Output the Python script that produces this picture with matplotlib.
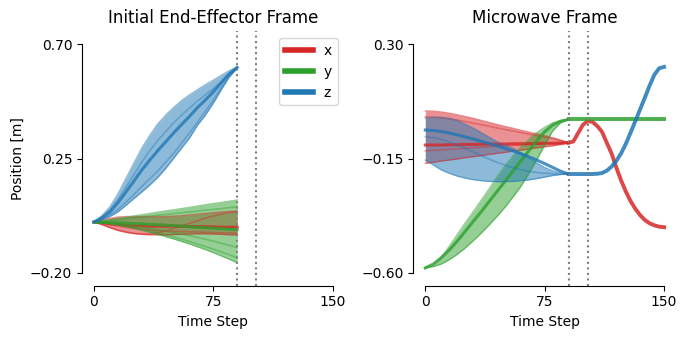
import matplotlib.pyplot as plt

# time axes
t_demo = [0, 5, 10, 15, 20, 25, 30, 35, 40, 45, 50, 55, 60, 65, 70, 75, 80, 85, 90]
t_exec = [90, 93, 96, 99, 102, 105, 108, 111, 114, 117, 120, 123, 126, 129, 132, 135, 138, 141, 144, 147, 150]
phase_marks = [90, 102]

# ---- Initial End-Effector Frame (demonstrations) ----
ee_x_lo = [0, -0.01, -0.022, -0.033, -0.04, -0.045, -0.048, -0.05, -0.05, -0.05, -0.049, -0.048, -0.047, -0.046, -0.046, -0.047, -0.048, -0.05, -0.05]
ee_x_hi = [0, 0.008, 0.015, 0.02, 0.022, 0.022, 0.022, 0.022, 0.022, 0.022, 0.023, 0.025, 0.028, 0.031, 0.034, 0.037, 0.04, 0.042, 0.043]
ee_x_mean = [0, -0.002, -0.006, -0.009, -0.012, -0.014, -0.015, -0.016, -0.016, -0.016, -0.016, -0.017, -0.017, -0.018, -0.018, -0.019, -0.02, -0.02, -0.02]
ee_x_demos = [
    [0, -0.008, -0.02, -0.03, -0.038, -0.044, -0.047, -0.046, -0.042, -0.035, -0.025, -0.015, -0.005, 0.005, 0.015, 0.024, 0.032, 0.038, 0.042],
    [0, -0.004, -0.01, -0.016, -0.021, -0.025, -0.028, -0.031, -0.033, -0.035, -0.036, -0.037, -0.038, -0.039, -0.04, -0.041, -0.042, -0.043, -0.044],
]

ee_y_lo = [0, -0.002, -0.006, -0.011, -0.018, -0.025, -0.032, -0.04, -0.048, -0.057, -0.066, -0.076, -0.086, -0.097, -0.108, -0.12, -0.133, -0.146, -0.16]
ee_y_hi = [0, 0.005, 0.01, 0.015, 0.019, 0.024, 0.029, 0.034, 0.039, 0.044, 0.048, 0.053, 0.058, 0.063, 0.068, 0.073, 0.077, 0.082, 0.087]
ee_y_mean = [0, -0.001, -0.002, -0.003, -0.004, -0.006, -0.007, -0.009, -0.01, -0.012, -0.014, -0.016, -0.018, -0.02, -0.022, -0.024, -0.026, -0.028, -0.03]
ee_y_demos = [
    [0, 0.003, 0.007, 0.01, 0.013, 0.017, 0.02, 0.023, 0.027, 0.03, 0.033, 0.037, 0.04, 0.043, 0.047, 0.05, 0.053, 0.057, 0.06],
    [0, -0.002, -0.005, -0.008, -0.012, -0.016, -0.02, -0.025, -0.03, -0.035, -0.041, -0.047, -0.053, -0.06, -0.067, -0.075, -0.083, -0.091, -0.1],
    [0, -0.002, -0.005, -0.01, -0.015, -0.021, -0.028, -0.035, -0.042, -0.05, -0.058, -0.067, -0.076, -0.086, -0.096, -0.106, -0.117, -0.128, -0.14],
]

ee_z_lo = [0, 0.01, 0.022, 0.04, 0.065, 0.092, 0.118, 0.145, 0.175, 0.21, 0.25, 0.29, 0.33, 0.38, 0.42, 0.467, 0.52, 0.57, 0.605]
ee_z_hi = [0, 0.025, 0.06, 0.11, 0.17, 0.23, 0.29, 0.34, 0.385, 0.42, 0.45, 0.477, 0.5, 0.52, 0.54, 0.558, 0.577, 0.595, 0.61]
ee_z_mean = [0, 0.017, 0.04, 0.075, 0.117, 0.16, 0.204, 0.243, 0.28, 0.315, 0.35, 0.383, 0.415, 0.45, 0.48, 0.512, 0.548, 0.583, 0.608]
ee_z_demos = [
    [0, 0.02, 0.048, 0.088, 0.135, 0.185, 0.235, 0.28, 0.32, 0.355, 0.39, 0.42, 0.448, 0.475, 0.5, 0.525, 0.55, 0.58, 0.608],
    [0, 0.012, 0.028, 0.05, 0.078, 0.108, 0.14, 0.17, 0.2, 0.235, 0.27, 0.31, 0.35, 0.392, 0.435, 0.48, 0.528, 0.572, 0.606],
]

# ---- Microwave Frame (demonstrations + execution) ----
mw_x_lo = [-0.169, -0.165, -0.16, -0.156, -0.152, -0.147, -0.143, -0.139, -0.134, -0.13, -0.126, -0.121, -0.117, -0.113, -0.108, -0.104, -0.1, -0.095, -0.088]
mw_x_hi = [0.037, 0.036, 0.033, 0.028, 0.022, 0.015, 0.008, 0.0, -0.008, -0.016, -0.024, -0.031, -0.039, -0.046, -0.053, -0.06, -0.068, -0.077, -0.088]
mw_x_mean = [-0.097, -0.097, -0.097, -0.096, -0.096, -0.095, -0.095, -0.094, -0.094, -0.093, -0.093, -0.092, -0.092, -0.091, -0.091, -0.09, -0.09, -0.089, -0.088]
mw_x_demos = [
    [0.014, 0.013, 0.01, 0.006, 0.001, -0.005, -0.011, -0.017, -0.023, -0.03, -0.036, -0.042, -0.048, -0.054, -0.06, -0.066, -0.072, -0.08, -0.088],
    [-0.12, -0.118, -0.116, -0.114, -0.112, -0.11, -0.108, -0.106, -0.104, -0.102, -0.1, -0.099, -0.097, -0.096, -0.094, -0.093, -0.091, -0.09, -0.088],
]
mw_x_exec = [-0.088, -0.083, -0.05, -0.018, -0.003, -0.006, -0.022, -0.045, -0.088, -0.13, -0.185, -0.236, -0.28, -0.318, -0.348, -0.373, -0.392, -0.405, -0.413, -0.418, -0.42]

mw_y_lo = [-0.58, -0.575, -0.565, -0.548, -0.527, -0.502, -0.474, -0.444, -0.412, -0.378, -0.342, -0.302, -0.26, -0.21, -0.155, -0.098, -0.042, -0.01, 0.003]
mw_y_hi = [-0.58, -0.57, -0.54, -0.495, -0.45, -0.404, -0.36, -0.315, -0.27, -0.223, -0.18, -0.14, -0.105, -0.075, -0.048, -0.027, -0.01, 0.0, 0.004]
mw_y_mean = [-0.58, -0.565, -0.54, -0.51, -0.475, -0.437, -0.398, -0.36, -0.32, -0.28, -0.24, -0.2, -0.16, -0.12, -0.08, -0.045, -0.018, -0.004, 0.004]
mw_y_demos = []
mw_y_exec = [0.004, 0.004, 0.004, 0.004, 0.004, 0.004, 0.004, 0.004, 0.004, 0.004, 0.004, 0.004, 0.004, 0.004, 0.004, 0.004, 0.004, 0.004, 0.004, 0.004, 0.004]

mw_z_lo = [-0.156, -0.175, -0.195, -0.208, -0.219, -0.227, -0.233, -0.237, -0.24, -0.241, -0.241, -0.24, -0.237, -0.234, -0.229, -0.223, -0.217, -0.213, -0.211]
mw_z_hi = [0.008, 0.012, 0.012, 0.008, 0.0, -0.015, -0.03, -0.048, -0.066, -0.084, -0.098, -0.11, -0.128, -0.148, -0.167, -0.185, -0.198, -0.207, -0.211]
mw_z_mean = [-0.038, -0.04, -0.044, -0.05, -0.057, -0.065, -0.073, -0.082, -0.091, -0.1, -0.11, -0.12, -0.131, -0.143, -0.156, -0.17, -0.185, -0.2, -0.211]
mw_z_demos = [
    [-0.064, -0.068, -0.075, -0.085, -0.097, -0.11, -0.124, -0.138, -0.152, -0.165, -0.176, -0.186, -0.194, -0.2, -0.205, -0.208, -0.21, -0.211, -0.211],
]
mw_z_exec = [-0.211, -0.211, -0.211, -0.211, -0.211, -0.211, -0.21, -0.207, -0.198, -0.182, -0.16, -0.13, -0.092, -0.048, -0.002, 0.044, 0.09, 0.138, 0.18, 0.205, 0.21]

axis_names = ['x', 'y', 'z']
colors = ['tab:red', 'tab:green', 'tab:blue']

x_ticks = [0, 75, 150]
ee_yticks = [-0.20, 0.25, 0.70]
ee_yticklabels = ['\u22120.20', '0.25', '0.70']
mw_yticks = [-0.60, -0.15, 0.30]
mw_yticklabels = ['\u22120.60', '\u22120.15', '0.30']


def draw_band(ax, lo, hi, mean, demos, color):
    ax.fill_between(t_demo, lo, hi, color=color, alpha=0.5, lw=0)
    ax.plot(t_demo, lo, color=color, alpha=0.5, lw=1)
    ax.plot(t_demo, hi, color=color, alpha=0.5, lw=1)
    for d in demos:
        ax.plot(t_demo, d, color=color, alpha=0.4, lw=1.2)
    ax.plot(t_demo, mean, color=color, alpha=0.8, lw=2.2)


def style_axes(ax, yticks, yticklabels, ylim):
    ax.set_xlim(-7.5, 157.5)
    ax.set_ylim(*ylim)
    ax.set_xticks(x_ticks)
    ax.set_yticks(yticks)
    ax.set_yticklabels(yticklabels)
    ax.spines['top'].set_visible(False)
    ax.spines['right'].set_visible(False)
    ax.spines['left'].set_bounds(yticks[0], yticks[-1])
    ax.spines['bottom'].set_bounds(x_ticks[0], x_ticks[-1])
    for xm in phase_marks:
        ax.axvline(xm, color='gray', ls=':', lw=1.5)
    ax.set_xlabel('Time Step')


fig, (ax1, ax2) = plt.subplots(1, 2, figsize=(6.86, 3.38), dpi=100)
fig.subplots_adjust(left=0.1195, right=0.9854, bottom=0.1547, top=0.9074, wspace=0.262)

ee_sets = [(ee_x_lo, ee_x_hi, ee_x_mean, ee_x_demos),
           (ee_y_lo, ee_y_hi, ee_y_mean, ee_y_demos),
           (ee_z_lo, ee_z_hi, ee_z_mean, ee_z_demos)]
for (lo, hi, mean, demos), c in zip(ee_sets, colors):
    draw_band(ax1, lo, hi, mean, demos, c)

mw_sets = [(mw_x_lo, mw_x_hi, mw_x_mean, mw_x_demos, mw_x_exec),
           (mw_y_lo, mw_y_hi, mw_y_mean, mw_y_demos, mw_y_exec),
           (mw_z_lo, mw_z_hi, mw_z_mean, mw_z_demos, mw_z_exec)]
for (lo, hi, mean, demos, ex), c in zip(mw_sets, colors):
    draw_band(ax2, lo, hi, mean, demos, c)
    ax2.plot(t_exec, ex, color=c, alpha=0.85, lw=2.8)

style_axes(ax1, ee_yticks, ee_yticklabels, (-0.25, 0.75))
style_axes(ax2, mw_yticks, mw_yticklabels, (-0.65, 0.35))

ax1.set_title('Initial End-Effector Frame')
ax2.set_title('Microwave Frame')
ax1.set_ylabel('Position [m]')

handles = [plt.Line2D([], [], color=c, lw=4) for c in colors]
ax1.legend(handles, axis_names, loc='upper right')

fig.savefig('out.png')
plt.close()
